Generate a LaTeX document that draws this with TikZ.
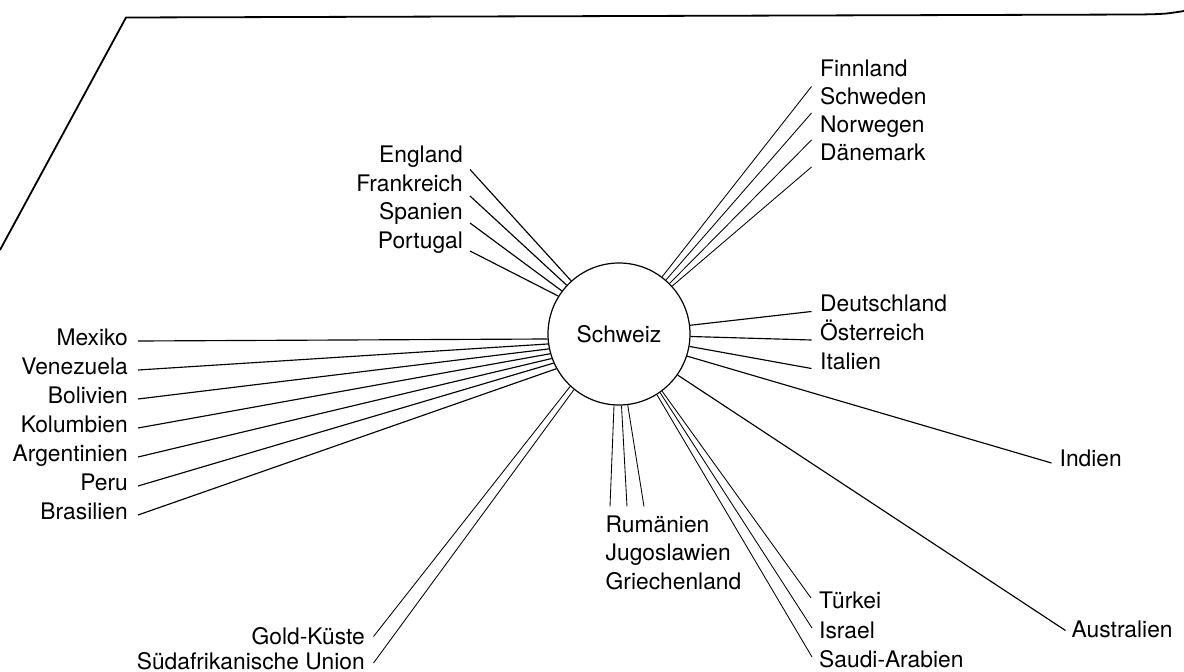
\documentclass[tikz,border=0pt]{standalone}
\usepackage{fontspec}
\setmainfont{TeX Gyre Heros}
\begin{document}
\begin{tikzpicture}[x=1pt,y=-1pt,
  conn/.style={line width=1.15pt},
  thinconn/.style={line width=0.85pt},
  lab/.style={font=\fontsize{22.8}{26}\selectfont, inner sep=0pt},
  labL/.style={lab, anchor=base east},
  labR/.style={lab, anchor=base west}]
\useasboundingbox (0,0) rectangle (1184,672);
% frame
\draw[line width=1.8pt, line join=round] (0,250) -- (126,17.5) -- (1140,14.5) .. controls (1165,14) .. (1184,11);
% centre
\node[draw, circle, minimum size=142pt, inner sep=0pt, line width=1.2pt, lab] (c) at (619,334) {Schweiz};
% left group
\node[labL] (mex) at (128,345) {Mexiko};
\node[labL] (ven) at (128,374) {Venezuela};
\node[labL] (bol) at (128,403) {Bolivien};
\node[labL] (kol) at (128,432) {Kolumbien};
\node[labL] (arg) at (128,461) {Argentinien};
\node[labL] (per) at (128,490) {Peru};
\node[labL] (bra) at (128,519) {Brasilien};
\coordinate (mexP) at (138,341);
\coordinate (venP) at (138,370);
\coordinate (bolP) at (138,399);
\coordinate (kolP) at (138,428);
\coordinate (argP) at (138,457);
\coordinate (perP) at (138,486);
\coordinate (braP) at (138,515);
\draw[conn] (mexP) -- (c.184);
\draw[conn] (venP) -- (c.188);
\draw[conn] (bolP) -- (c.192);
\draw[conn] (kolP) -- (c.196);
\draw[conn] (argP) -- (c.200);
\draw[conn] (perP) -- (c.204.5);
\draw[conn] (braP) -- (c.209);
% England group
\node[labL] (eng) at (463,162.5) {England};
\node[labL] (fra) at (463,191) {Frankreich};
\node[labL] (spa) at (463,219.5) {Spanien};
\node[labL] (por) at (463,248) {Portugal};
\coordinate (engP) at (470,169.5);
\coordinate (fraP) at (470,196);
\coordinate (spaP) at (470,223);
\coordinate (porP) at (470,251);
\draw[conn] (engP) -- (c.132.5);
\draw[conn] (fraP) -- (c.137);
\draw[conn] (spaP) -- (c.143);
\draw[conn] (porP) -- (c.148.5);
% Scandinavia
\node[labR] (fin) at (820,76.5) {Finnland};
\node[labR] (swe) at (820,104.5) {Schweden};
\node[labR] (nor) at (820,132.5) {Norwegen};
\node[labR] (dan) at (820,160.5) {Dänemark};
\coordinate (finP) at (811.5,86.5);
\coordinate (sweP) at (811.5,113);
\coordinate (norP) at (811.5,140);
\coordinate (danP) at (811.5,167);
\draw[thinconn] (finP) -- (c.53);
\draw[thinconn] (sweP) -- (c.49.5);
\draw[thinconn] (norP) -- (c.45.5);
\draw[thinconn] (danP) -- (c.42);
% right group
\node[labR] (deu) at (820,311) {Deutschland};
\node[labR] (oes) at (820,340) {Österreich};
\node[labR] (ita) at (820,369) {Italien};
\node[labR] (ind) at (1059.5,466) {Indien};
\node[labR] (aus) at (1071.5,637) {Australien};
\coordinate (deuP) at (811.5,311.5);
\coordinate (oesP) at (811.5,340);
\coordinate (itaP) at (811.5,368.5);
\coordinate (indP) at (1051.5,463);
\coordinate (ausP) at (1065.5,630.5);
\draw[conn] (deuP) -- (c.7);
\draw[conn] (oesP) -- (c.-2);
\draw[conn] (itaP) -- (c.-10);
\draw[conn] (indP) -- (c.-18);
\draw[conn] (ausP) -- (c.-35);
% Balkan group
\node[labR] (rum) at (605.5,532) {Rumänien};
\node[labR] (jug) at (605.5,560.5) {Jugoslawien};
\node[labR] (gri) at (605.5,589) {Griechenland};
\coordinate (rumP) at (610,506.5);
\coordinate (jugP) at (627,506.5);
\coordinate (griP) at (644,506.5);
\draw[thinconn] (rumP) -- (c.266.8);
\draw[thinconn] (jugP) -- (c.272.2);
\draw[thinconn] (griP) -- (c.277.5);
% Near East
\node[labR] (tur) at (819,608.5) {Türkei};
\node[labR] (isr) at (819,638) {Israel};
\node[labR] (sau) at (819,667) {Saudi-Arabien};
\coordinate (turP) at (811,598);
\coordinate (isrP) at (812,628);
\coordinate (sauP) at (812,657);
\draw[thinconn] (turP) -- (c.-53);
\draw[thinconn] (isrP) -- (c.-55.5);
\draw[thinconn] (sauP) -- (c.-58.5);
% Africa
\node[labL] (gol) at (365,644) {Gold-Küste};
\node[labL] (sud) at (365,669) {Südafrikanische Union};
\coordinate (golP) at (373.5,636.5);
\coordinate (sudP) at (373.5,663);
\draw[thinconn] (golP) -- (c.227.5);
\draw[thinconn] (sudP) -- (c.231.5);
\end{tikzpicture}
\end{document}
